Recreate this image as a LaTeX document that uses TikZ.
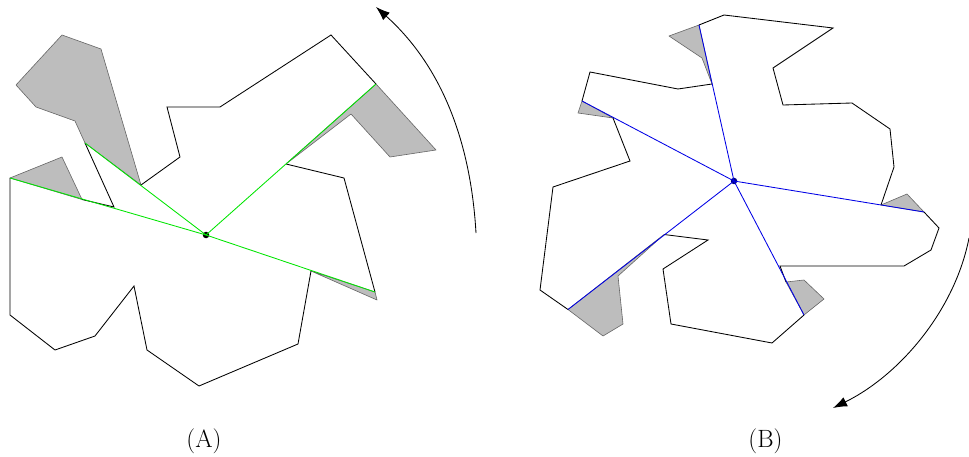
\documentclass[tikz,border=0pt]{standalone}
\usepackage{fontspec}
\usetikzlibrary{arrows.meta}
\definecolor{shade}{RGB}{189,189,189}
\tikzset{
  outline/.style={draw=black,line width=0.85pt,line join=miter},
  pocket/.style={fill=shade,draw=black!60,line width=0.6pt,line join=round},
  visA/.style={draw=green!90!black,line width=0.85pt},
  visB/.style={draw=blue!90!black,line width=0.85pt},
  hub/.style={circle,fill=#1,inner sep=0pt,minimum size=6.5pt},
  turn/.style={draw=black,line width=0.85pt,-{Latex[length=14pt,width=10pt]}},
  caption/.style={font=\fontsize{25}{29}\selectfont,inner sep=0pt}
}
\begin{document}
\begin{tikzpicture}[x=1pt,y=-1pt]
\useasboundingbox (0,0) rectangle (969,457);
% Polygon A
\fill[pocket] (10,178) -- (62,157) -- (82,199.5) -- cycle;
\fill[pocket] (85,143) -- (75,121) -- (36,107) -- (16,85) -- (62,35) -- (101,49) -- (141,185) -- cycle;
\fill[pocket] (286,164) -- (351,114) -- (390,157) -- (436,150) -- (376,84) -- cycle;
\fill[pocket] (311,271) -- (377,300) -- (375,292) -- cycle;
\draw[outline] (82,199.5) -- (114,207) -- (85,143);
\draw[outline] (141,185) -- (180,157) -- (167,107) -- (220,107) -- (331,35) -- (376,84);
\draw[outline] (286,164) -- (344,178) -- (375,292);
\draw[outline] (311,271) -- (298,344) -- (199,386) -- (147,350) -- (134,286) -- (95,336) -- (55,350) -- (10,315) -- (10,178);
\node[hub=black] (ca) at (206,235) {};
\coordinate (a1) at (10,178);
\coordinate (a2) at (85,143);
\coordinate (a3) at (376,84);
\coordinate (a4) at (375,292);
\draw[visA] (ca.center) -- (a1);
\draw[visA] (ca.center) -- (a2);
\draw[visA] (ca.center) -- (a3);
\draw[visA] (ca.center) -- (a4);
% Polygon B
\fill[pocket] (699,25) -- (669,36) -- (702,58) -- (712,84) -- cycle;
\fill[pocket] (582,101) -- (578,113) -- (613,118) -- cycle;
\fill[pocket] (664,234.5) -- (618,276) -- (623,324) -- (603,336) -- (568,309.5) -- cycle;
\fill[pocket] (786,282) -- (804,280) -- (824,299) -- (804,315) -- cycle;
\fill[pocket] (881,205) -- (907,194) -- (924,212) -- cycle;
\draw[outline] (699,25) -- (724,15) -- (833,28) -- (773,68) -- (783,105) -- (852,103) -- (890,129) -- (894,167) -- (881,205);
\draw[outline] (924,212) -- (939,228) -- (931,250) -- (904,266) -- (780,266) -- (786,282);
\draw[outline] (804,315) -- (772,343) -- (671,324) -- (663,269) -- (708,240) -- (664,234.5);
\draw[outline] (568,309.5) -- (540,290) -- (553,187) -- (630,161) -- (613,118);
\draw[outline] (582,101) -- (590,72) -- (678,89) -- (712,84);
\node[hub=blue!50!black] (cb) at (734,181) {};
\coordinate (b1) at (699,25);
\coordinate (b2) at (582,101);
\coordinate (b3) at (568,309.5);
\coordinate (b4) at (804,315);
\coordinate (b5) at (924,212);
\draw[visB] (cb.center) -- (b1);
\draw[visB] (cb.center) -- (b2);
\draw[visB] (cb.center) -- (b3);
\draw[visB] (cb.center) -- (b4);
\draw[visB] (cb.center) -- (b5);
% Rotation arrows
\coordinate (ra) at (476,233);
\coordinate (rb) at (376,7);
\coordinate (rc) at (969,238);
\coordinate (rd) at (833,408);
\draw[turn] (ra) .. controls (470,130) and (435,60) .. (rb);
\draw[turn] (rc) .. controls (955,310) and (900,375) .. (rd);
% Labels
\node[caption] (la) at (204,441) {(A)};
\node[caption] (lb) at (765.5,441) {(B)};
\end{tikzpicture}
\end{document}
